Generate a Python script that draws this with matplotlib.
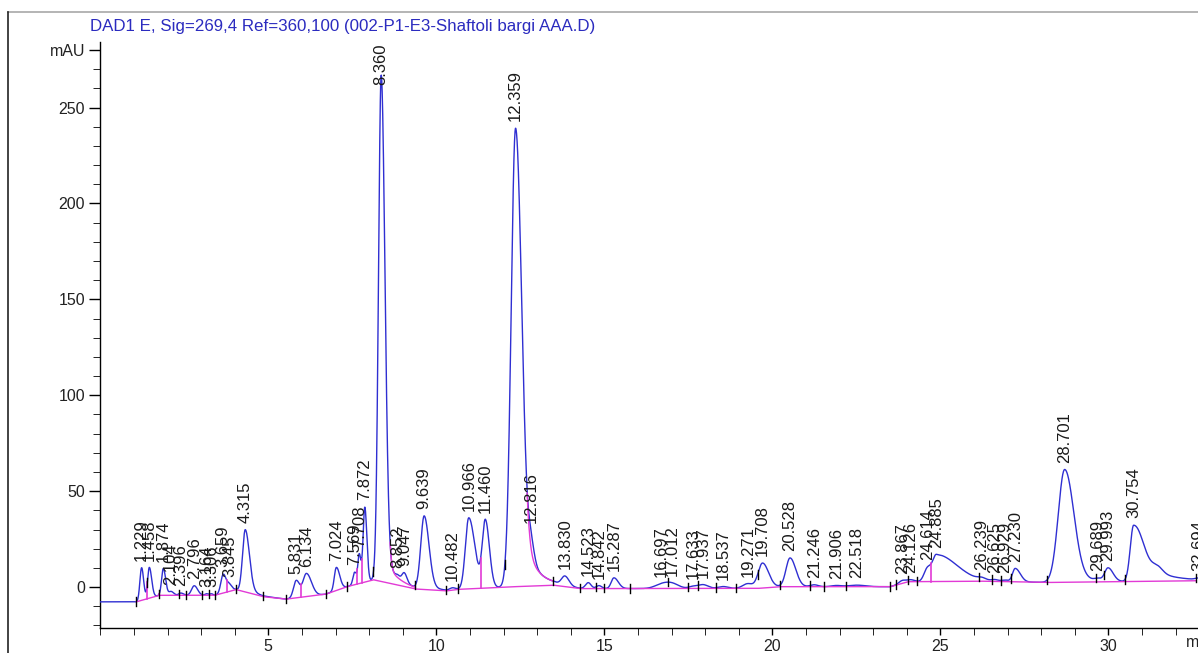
import numpy as np
import matplotlib
matplotlib.use("Agg")
import matplotlib.pyplot as plt
from matplotlib.lines import Line2D
from matplotlib.ticker import MultipleLocator, FixedLocator

plt.rcParams['font.family'] = ['Liberation Sans', 'DejaVu Sans']

title = "DAD1 E, Sig=269,4 Ref=360,100 (002-P1-E3-Shaftoli bargi AAA.D)"

# retention times (min) and peak heights above baseline (mAU)
peak_rt = [1.229, 1.458, 1.874, 2.104, 2.396, 2.796, 3.164, 3.306, 3.659, 3.845,
           4.315, 5.831, 6.134, 7.024, 7.569, 7.708, 7.872, 8.360, 8.852, 9.047,
           9.639, 10.482, 10.966, 11.460, 12.359, 12.816, 13.830, 14.523, 14.842, 15.287,
           16.697, 17.012, 17.633, 17.937, 18.537, 19.271, 19.708, 20.528, 21.246, 21.906,
           22.518, 23.867, 24.126, 24.614, 24.885, 26.239, 26.625, 26.929, 27.230, 28.701,
           29.689, 29.993, 30.754, 32.694]
peak_h = [17, 16, 14, 2, 1.2, 5, 0.8, 0.8, 9.8, 3,
          32.5, 9, 12, 12, 6.5, 15, 39, 264, 1.5, 5,
          38, 1, 37, 35, 239, 9, 4.8, 3, 1.5, 5.6,
          2, 2.5, 1, 2, 1, 2.5, 13, 15, 1, 0.6,
          0.8, 1.5, 1, 6.5, 14, 1, 0.8, 0.8, 7, 58.8,
          1.2, 7, 29.3, 0.8]
# left / right widths (min)
peak_wl = [0.05, 0.05, 0.05, 0.06, 0.06, 0.08, 0.05, 0.05, 0.07, 0.06,
           0.08, 0.08, 0.10, 0.06, 0.05, 0.04, 0.05, 0.08, 0.06, 0.07,
           0.10, 0.08, 0.10, 0.09, 0.13, 0.07, 0.10, 0.08, 0.08, 0.08,
           0.20, 0.20, 0.12, 0.15, 0.15, 0.15, 0.13, 0.12, 0.12, 0.15,
           0.25, 0.10, 0.10, 0.10, 0.12, 0.12, 0.10, 0.10, 0.08, 0.19,
           0.10, 0.10, 0.10, 0.10]
peak_wr = [0.06, 0.07, 0.07, 0.08, 0.08, 0.10, 0.05, 0.05, 0.09, 0.08,
           0.12, 0.10, 0.15, 0.10, 0.06, 0.05, 0.06, 0.11, 0.06, 0.08,
           0.14, 0.08, 0.18, 0.12, 0.17, 0.10, 0.12, 0.08, 0.08, 0.13,
           0.20, 0.20, 0.12, 0.15, 0.15, 0.15, 0.18, 0.17, 0.12, 0.15,
           0.25, 0.10, 0.10, 0.10, 0.60, 0.12, 0.10, 0.10, 0.15, 0.26,
           0.10, 0.15, 0.25, 0.10]
# exponential tail: fraction of height and decay constant (min)
peak_tail = {8.360: (0.06, 0.35), 12.359: (0.22, 0.35), 28.701: (0.20, 0.35),
             30.754: (0.55, 0.60), 9.639: (0.08, 0.3), 4.315: (0.08, 0.3)}

# unlabelled shoulder on the 30.754 peak
shoulder_rt = [31.47]
shoulder_h = [3.0]
shoulder_w = [0.15]

# baseline drift (min, mAU)
bl_t = [0, 1.07, 1.75, 3.40, 4.04, 4.85, 5.52, 6.71, 7.34, 8.13, 9.38, 10.30,
        10.64, 12.04, 13.48, 14.28, 19.56, 20.22, 23.51, 24.04, 26.15, 28.18, 32.61, 33.0]
bl_y = [-7.7, -7.7, -4.3, -4.3, -1.3, -5.0, -6.3, -3.7, 0.2, 3.8, -1.0, -2.0,
        -1.2, 0.0, 1.0, -0.8, -0.7, 0.2, 0.2, 2.8, 3.1, 2.4, 3.3, 3.4]

# integration events
tick_t = [1.07, 1.40, 1.75, 2.33, 2.56, 3.04, 3.24, 3.41, 4.04, 4.85, 5.52, 6.71,
          7.34, 8.13, 9.38, 10.30, 10.64, 12.04, 13.48, 14.28, 14.75, 14.98, 15.75,
          16.89, 17.49, 17.79, 18.33, 18.91, 19.56, 20.22, 21.12, 21.55, 22.19,
          23.51, 23.68, 24.04, 24.30, 26.15, 26.55, 26.80, 27.09, 28.18, 29.63,
          29.86, 30.49, 32.61]
drop_t = [1.40, 1.75, 3.76, 5.98, 7.65, 7.78, 11.32, 24.73]
skim = [(8.360, 8.62, 9.38), (12.359, 12.70, 13.48)]

BLUE = '#2f2fd2'
MAGENTA = '#e23ad6'


def peak(t, i):
    rt, h = peak_rt[i], peak_h[i]
    dt = t - rt
    s = np.where(dt < 0, peak_wl[i], peak_wr[i])
    y = np.exp(-0.5 * (dt / s) ** 2)
    if rt in peak_tail:
        frac, tau = peak_tail[rt]
        pos = np.clip(dt, 0, None)
        y = y + frac * np.exp(-pos / tau) * (1 - np.exp(-0.5 * (pos / peak_wr[i]) ** 2))
    return h * y


def baseline(t):
    return np.interp(t, bl_t, bl_y)


def signal(t):
    t = np.asarray(t, dtype=float)
    y = baseline(t)
    for i in range(len(peak_rt)):
        y = y + peak(t, i)
    for rt, h, w in zip(shoulder_rt, shoulder_h, shoulder_w):
        y = y + h * np.exp(-0.5 * ((t - rt) / w) ** 2)
    return y


fig = plt.figure(figsize=(11.98, 6.53), dpi=100)
ax = fig.add_axes([100.3 / 1198, 0.0378, 1 - 100.3 / 1198, 0.8974])

t = np.linspace(0, 33, 6000)
ax.plot(t, signal(t), color=BLUE, lw=1.0, zorder=3)

# integration baseline and skims
tb = t[(t >= tick_t[0]) & (t <= tick_t[-1])]
ax.plot(tb, baseline(tb), color=MAGENTA, lw=1.0, zorder=4)
for parent, a, b in skim:
    ts = t[(t >= a) & (t <= b)]
    ax.plot(ts, baseline(ts) + peak(ts, peak_rt.index(parent)), color=MAGENTA, lw=1.0, zorder=4)
for d in drop_t:
    ax.plot([d, d], [baseline(d), signal(d)], color=MAGENTA, lw=1.2, zorder=4)
for e in tick_t:
    y0 = float(signal(e))
    ax.plot([e, e], [y0 - 2.2, y0 + 2.2], color='black', lw=1.0, zorder=5)

# retention time labels
for rt in peak_rt:
    y = min(float(signal(rt)) + 3.5, 262)
    ax.text(rt, y, f"{rt:.3f}", rotation=90, ha='center', va='bottom',
            fontsize=12, color='#1a1a1a', zorder=6, clip_on=False)

ax.set_xlim(0, (1198 - 100.3) / 33.6)
ax.set_ylim(-21.5, 284)
ax.xaxis.set_major_locator(FixedLocator([5, 10, 15, 20, 25, 30]))
ax.xaxis.set_minor_locator(MultipleLocator(1))
ax.yaxis.set_major_locator(FixedLocator([0, 50, 100, 150, 200, 250, 280]))
ax.set_yticklabels(['0', '50', '100', '150', '200', '250', 'mAU'])
ax.yaxis.set_minor_locator(FixedLocator(np.arange(-20, 280, 10)))
ax.tick_params(axis='both', which='major', labelsize=11.5, labelcolor='#222222', width=1)
ax.tick_params(axis='x', which='both', length=5, pad=3)
ax.tick_params(axis='y', which='major', length=8, pad=3)
ax.tick_params(axis='y', which='minor', length=5)
for side in ('top', 'right'):
    ax.spines[side].set_visible(False)
for side in ('left', 'bottom'):
    ax.spines[side].set_linewidth(1.0)
ax.text(32.3, -21.5 - 7.5, "min", ha='left', va='center', fontsize=11.5, color='#222222',
        clip_on=False)

fig.text(90 / 1198, 1 - 26 / 653, title, ha='left', va='center', fontsize=12.2, color='#2b2bbf')

# page frame
fig.add_artist(Line2D([8 / 1198, 1], [1 - 12 / 653, 1 - 12 / 653], color='#a8a8a8', lw=1.2,
                      transform=fig.transFigure))
fig.add_artist(Line2D([8 / 1198, 8 / 1198], [0, 1 - 12 / 653], color='#222222', lw=1.2,
                      transform=fig.transFigure))

fig.savefig("out.png", dpi=100)
